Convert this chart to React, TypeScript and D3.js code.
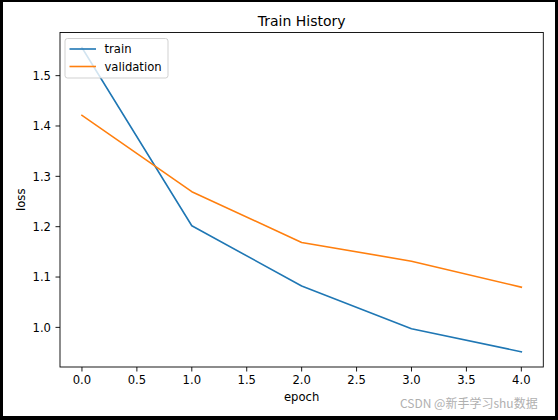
import React from "react";
import * as d3 from "d3";

const epochs = [0, 1, 2, 3, 4];
const trainLoss = [1.5555, 1.2018, 1.0823, 0.9974, 0.9515];
const validationLoss = [1.421, 1.2695, 1.1687, 1.1315, 1.0798];
const xTicks = [0.0, 0.5, 1.0, 1.5, 2.0, 2.5, 3.0, 3.5, 4.0];
const yTicks = [1.0, 1.1, 1.2, 1.3, 1.4, 1.5];
const seriesNames = ["train", "validation"];
const seriesColors = ["#1f77b4", "#ff7f0e"];

const W = 558;
const H = 420;
const left = 60;
const right = 543.3;
const top = 32.5;
const bottom = 367;
const FONT = "DejaVu Sans, sans-serif";

export default function App() {
  const x = d3.scaleLinear().domain([-0.2, 4.2]).range([left, right]);
  const allVals = [...trainLoss, ...validationLoss];
  const ymin = d3.min(allVals) as number;
  const ymax = d3.max(allVals) as number;
  const pad = (ymax - ymin) * 0.05;
  const y = d3.scaleLinear().domain([ymin - pad, ymax + pad]).range([bottom, top]);

  const line = d3
    .line<number>()
    .x((_, i) => x(epochs[i]))
    .y((d) => y(d));

  const series = [trainLoss, validationLoss];

  return (
    <svg
      width={W}
      height={H}
      style={{ position: "absolute", left: 0, top: 0, display: "block" }}
      fontFamily={FONT}
    >
      <rect x={0} y={0} width={W} height={H} fill="#000" />
      <rect x={3} y={2} width={552} height={414} fill="#fff" />

      {/* lines */}
      <g clipPath="url(#clip)">
        {series.map((s, k) => (
          <path
            key={k}
            d={line(s) || ""}
            fill="none"
            stroke={seriesColors[k]}
            strokeWidth={1.6}
            strokeLinejoin="round"
            strokeLinecap="square"
          />
        ))}
      </g>
      <defs>
        <clipPath id="clip">
          <rect x={left} y={top} width={right - left} height={bottom - top} />
        </clipPath>
      </defs>

      {/* axes frame */}
      <rect
        x={left}
        y={top}
        width={right - left}
        height={bottom - top}
        fill="none"
        stroke="#000"
        strokeWidth={0.9}
      />

      {/* x ticks */}
      {xTicks.map((t) => (
        <g key={"x" + t}>
          <line x1={x(t)} x2={x(t)} y1={bottom} y2={bottom + 4.5} stroke="#000" strokeWidth={0.9} />
          <text x={x(t)} y={384.3} textAnchor="middle" fontSize={11.6} fill="#000">
            {t.toFixed(1)}
          </text>
        </g>
      ))}

      {/* y ticks */}
      {yTicks.map((t) => (
        <g key={"y" + t}>
          <line x1={left - 4.5} x2={left} y1={y(t)} y2={y(t)} stroke="#000" strokeWidth={0.9} />
          <text x={51} y={y(t)} dy="0.36em" textAnchor="end" fontSize={11.6} fill="#000">
            {t.toFixed(1)}
          </text>
        </g>
      ))}

      {/* title & labels */}
      <text x={(left + right) / 2} y={25.7} textAnchor="middle" fontSize={14} fill="#000">
        Train History
      </text>
      <text x={(left + right) / 2} y={400.5} textAnchor="middle" fontSize={11.6} fill="#000">
        epoch
      </text>
      <text
        transform={`translate(25, ${(top + bottom) / 2}) rotate(-90)`}
        textAnchor="middle"
        fontSize={11.6}
        fill="#000"
      >
        loss
      </text>

      {/* legend */}
      <rect
        x={65}
        y={38.5}
        width={103}
        height={39.5}
        rx={2.5}
        fill="#fff"
        fillOpacity={0.8}
        stroke="#cccccc"
        strokeWidth={0.9}
      />
      {seriesNames.map((n, k) => (
        <g key={n}>
          <line
            x1={69.5}
            x2={96}
            y1={49 + k * 17.5}
            y2={49 + k * 17.5}
            stroke={seriesColors[k]}
            strokeWidth={1.6}
          />
          <text x={104.5} y={49 + k * 17.5} dy="0.36em" fontSize={11.6} fill="#000">
            {n}
          </text>
        </g>
      ))}

      {/* watermark */}
      <text x={400} y={408} fontSize={12} fill="#b0b0b0" fontFamily="Noto Sans CJK SC, DejaVu Sans, sans-serif">
        CSDN @新手学习shu数据
      </text>
    </svg>
  );
}
